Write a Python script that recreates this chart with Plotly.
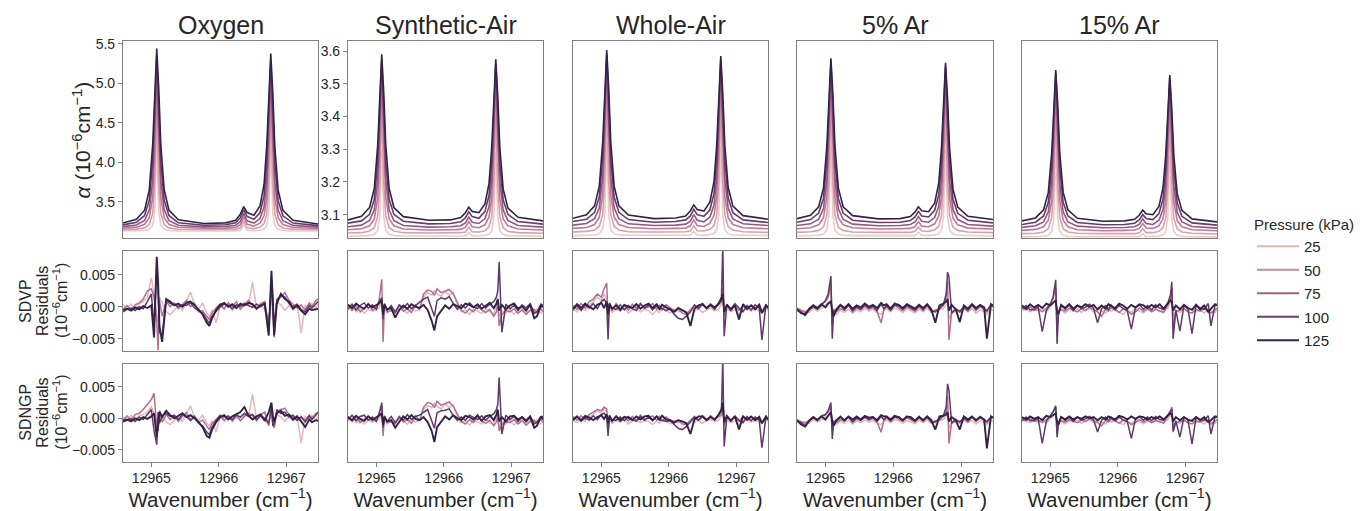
import math
import plotly.graph_objects as go

# ---------------- data ----------------
PANELS = ["Oxygen", "Synthetic-Air", "Whole-Air", "5% Ar", "15% Ar"]
TOP_PRESSURES = [15, 37, 59, 81, 103, 125]      # kPa, one absorption spectrum each
RES_PRESSURES = [25, 65, 105, 125]              # kPa, residual traces drawn per panel
LEGEND_PRESSURES = [25, 50, 75, 100, 125]

WN_TOP = [12964.58, 12964.78, 12964.90, 12964.97, 12965.02, 12965.05, 12965.08, 12965.11,
          12965.14, 12965.19, 12965.26, 12965.40, 12965.78, 12966.10, 12966.25, 12966.32,
          12966.37, 12966.42, 12966.52, 12966.61, 12966.67, 12966.71, 12966.74, 12966.77,
          12966.80, 12966.83, 12966.88, 12966.95, 12967.10, 12967.47]

# absorption coefficient (10^-6 cm^-1), one list per pressure (low -> high)
ALPHA_OXYGEN = [
    [3.131, 3.133, 3.139, 3.154, 3.204, 3.378, 4.25, 3.378, 3.204, 3.154, 3.139, 3.133, 3.131, 3.131, 3.132, 3.139, 3.212, 3.14, 3.135, 3.141, 3.157, 3.201, 3.367, 4.20, 3.367, 3.201, 3.153, 3.138, 3.133, 3.131],
    [3.149, 3.155, 3.171, 3.213, 3.353, 3.732, 4.65, 3.732, 3.353, 3.213, 3.171, 3.153, 3.148, 3.149, 3.152, 3.17, 3.26, 3.172, 3.161, 3.178, 3.224, 3.346, 3.712, 4.60, 3.712, 3.346, 3.21, 3.17, 3.153, 3.147],
    [3.167, 3.18, 3.216, 3.30, 3.556, 4.112, 4.95, 4.112, 3.556, 3.30, 3.216, 3.178, 3.166, 3.168, 3.177, 3.21, 3.312, 3.216, 3.194, 3.23, 3.324, 3.545, 4.086, 4.90, 4.086, 3.545, 3.296, 3.214, 3.176, 3.164],
    [3.187, 3.208, 3.265, 3.40, 3.77, 4.434, 5.18, 4.434, 3.77, 3.40, 3.265, 3.204, 3.184, 3.188, 3.203, 3.252, 3.355, 3.261, 3.231, 3.288, 3.435, 3.753, 4.396, 5.12, 4.396, 3.753, 3.393, 3.263, 3.202, 3.181],
    [3.209, 3.242, 3.328, 3.521, 4.007, 4.717, 5.34, 4.717, 4.007, 3.521, 3.328, 3.235, 3.204, 3.21, 3.235, 3.30, 3.401, 3.315, 3.279, 3.362, 3.572, 3.984, 4.674, 5.28, 4.674, 3.984, 3.512, 3.324, 3.232, 3.199],
    [3.233, 3.279, 3.395, 3.652, 4.226, 4.926, 5.44, 4.927, 4.227, 3.653, 3.397, 3.273, 3.227, 3.234, 3.267, 3.345, 3.439, 3.365, 3.33, 3.448, 3.717, 4.204, 4.882, 5.375, 4.88, 4.20, 3.644, 3.393, 3.266, 3.219],
]
ALPHA_SYNTH_AIR = [
    [3.034, 3.035, 3.036, 3.04, 3.052, 3.093, 3.30, 3.093, 3.052, 3.04, 3.036, 3.035, 3.034, 3.034, 3.035, 3.035, 3.046, 3.036, 3.035, 3.037, 3.04, 3.051, 3.091, 3.29, 3.091, 3.051, 3.039, 3.036, 3.035, 3.034],
    [3.044, 3.045, 3.05, 3.06, 3.095, 3.19, 3.42, 3.19, 3.095, 3.06, 3.05, 3.045, 3.044, 3.044, 3.045, 3.047, 3.062, 3.048, 3.047, 3.051, 3.063, 3.094, 3.186, 3.41, 3.186, 3.094, 3.06, 3.049, 3.045, 3.043],
    [3.054, 3.057, 3.066, 3.087, 3.151, 3.29, 3.50, 3.29, 3.151, 3.087, 3.066, 3.056, 3.053, 3.054, 3.055, 3.061, 3.079, 3.063, 3.06, 3.069, 3.093, 3.149, 3.285, 3.49, 3.285, 3.149, 3.086, 3.066, 3.056, 3.053],
    [3.063, 3.068, 3.082, 3.115, 3.206, 3.368, 3.55, 3.368, 3.206, 3.115, 3.082, 3.067, 3.062, 3.063, 3.066, 3.075, 3.093, 3.077, 3.073, 3.088, 3.124, 3.203, 3.361, 3.54, 3.361, 3.203, 3.114, 3.082, 3.067, 3.062],
    [3.074, 3.081, 3.101, 3.147, 3.261, 3.428, 3.575, 3.428, 3.261, 3.147, 3.101, 3.08, 3.072, 3.073, 3.078, 3.09, 3.109, 3.094, 3.089, 3.11, 3.159, 3.256, 3.419, 3.562, 3.419, 3.256, 3.145, 3.101, 3.079, 3.071],
    [3.084, 3.095, 3.122, 3.18, 3.312, 3.472, 3.59, 3.472, 3.312, 3.18, 3.122, 3.094, 3.083, 3.084, 3.091, 3.106, 3.123, 3.11, 3.106, 3.133, 3.195, 3.306, 3.461, 3.575, 3.461, 3.305, 3.178, 3.12, 3.092, 3.081],
]
ALPHA_WHOLE_AIR = [
    [3.036, 3.037, 3.038, 3.042, 3.055, 3.099, 3.32, 3.099, 3.055, 3.042, 3.038, 3.037, 3.036, 3.036, 3.037, 3.038, 3.048, 3.038, 3.037, 3.039, 3.043, 3.054, 3.097, 3.31, 3.097, 3.054, 3.042, 3.038, 3.037, 3.036],
    [3.047, 3.049, 3.053, 3.064, 3.10, 3.20, 3.44, 3.20, 3.10, 3.064, 3.053, 3.048, 3.047, 3.047, 3.048, 3.051, 3.066, 3.051, 3.05, 3.055, 3.067, 3.099, 3.196, 3.43, 3.196, 3.099, 3.063, 3.053, 3.048, 3.046],
    [3.058, 3.061, 3.07, 3.092, 3.159, 3.303, 3.52, 3.303, 3.159, 3.092, 3.07, 3.061, 3.057, 3.058, 3.059, 3.066, 3.084, 3.067, 3.064, 3.074, 3.098, 3.155, 3.295, 3.505, 3.295, 3.155, 3.091, 3.07, 3.06, 3.057],
    [3.068, 3.073, 3.088, 3.121, 3.214, 3.379, 3.565, 3.379, 3.214, 3.121, 3.088, 3.072, 3.067, 3.068, 3.071, 3.08, 3.10, 3.083, 3.078, 3.093, 3.13, 3.209, 3.37, 3.55, 3.37, 3.209, 3.119, 3.087, 3.072, 3.067],
    [3.079, 3.086, 3.107, 3.154, 3.27, 3.44, 3.59, 3.44, 3.27, 3.154, 3.107, 3.085, 3.077, 3.079, 3.084, 3.096, 3.116, 3.10, 3.095, 3.115, 3.165, 3.264, 3.428, 3.573, 3.428, 3.264, 3.151, 3.106, 3.084, 3.076],
    [3.089, 3.10, 3.127, 3.187, 3.321, 3.483, 3.603, 3.483, 3.321, 3.187, 3.127, 3.099, 3.088, 3.09, 3.096, 3.112, 3.13, 3.116, 3.111, 3.139, 3.202, 3.313, 3.47, 3.585, 3.47, 3.312, 3.183, 3.126, 3.097, 3.086],
]
ALPHA_AR5 = [
    [3.035, 3.036, 3.037, 3.041, 3.053, 3.096, 3.31, 3.096, 3.053, 3.041, 3.037, 3.036, 3.035, 3.035, 3.036, 3.036, 3.046, 3.037, 3.036, 3.038, 3.042, 3.053, 3.094, 3.30, 3.094, 3.053, 3.041, 3.037, 3.036, 3.035],
    [3.046, 3.048, 3.052, 3.062, 3.098, 3.195, 3.43, 3.195, 3.098, 3.062, 3.052, 3.047, 3.046, 3.046, 3.046, 3.049, 3.062, 3.05, 3.049, 3.054, 3.065, 3.097, 3.191, 3.42, 3.191, 3.097, 3.062, 3.052, 3.047, 3.045],
    [3.057, 3.06, 3.069, 3.09, 3.155, 3.294, 3.505, 3.294, 3.155, 3.09, 3.069, 3.06, 3.056, 3.057, 3.058, 3.063, 3.079, 3.065, 3.063, 3.072, 3.096, 3.151, 3.286, 3.49, 3.286, 3.151, 3.089, 3.069, 3.059, 3.056],
    [3.067, 3.072, 3.086, 3.118, 3.207, 3.366, 3.545, 3.366, 3.207, 3.118, 3.086, 3.071, 3.066, 3.067, 3.07, 3.078, 3.094, 3.08, 3.077, 3.091, 3.126, 3.202, 3.357, 3.53, 3.357, 3.202, 3.116, 3.085, 3.07, 3.065],
    [3.077, 3.085, 3.105, 3.149, 3.261, 3.424, 3.567, 3.424, 3.261, 3.149, 3.105, 3.083, 3.076, 3.077, 3.082, 3.093, 3.11, 3.096, 3.093, 3.113, 3.161, 3.255, 3.414, 3.553, 3.414, 3.255, 3.147, 3.104, 3.083, 3.075],
    [3.088, 3.098, 3.124, 3.181, 3.309, 3.464, 3.578, 3.464, 3.309, 3.181, 3.124, 3.097, 3.087, 3.088, 3.094, 3.108, 3.124, 3.112, 3.109, 3.135, 3.196, 3.303, 3.453, 3.564, 3.453, 3.302, 3.178, 3.123, 3.095, 3.085],
]
ALPHA_AR15 = [
    [3.032, 3.033, 3.034, 3.037, 3.049, 3.089, 3.29, 3.089, 3.049, 3.037, 3.034, 3.033, 3.032, 3.032, 3.033, 3.033, 3.042, 3.033, 3.033, 3.035, 3.038, 3.048, 3.087, 3.28, 3.087, 3.048, 3.037, 3.034, 3.033, 3.032],
    [3.042, 3.043, 3.047, 3.057, 3.091, 3.181, 3.40, 3.181, 3.091, 3.057, 3.047, 3.043, 3.042, 3.042, 3.042, 3.045, 3.057, 3.045, 3.045, 3.049, 3.06, 3.089, 3.177, 3.39, 3.177, 3.089, 3.057, 3.047, 3.043, 3.041],
    [3.052, 3.055, 3.063, 3.083, 3.143, 3.273, 3.47, 3.273, 3.143, 3.083, 3.063, 3.054, 3.051, 3.052, 3.053, 3.058, 3.073, 3.059, 3.058, 3.066, 3.088, 3.141, 3.268, 3.46, 3.268, 3.141, 3.082, 3.063, 3.054, 3.051],
    [3.061, 3.066, 3.078, 3.109, 3.192, 3.342, 3.51, 3.342, 3.192, 3.109, 3.078, 3.065, 3.06, 3.061, 3.063, 3.071, 3.087, 3.073, 3.07, 3.083, 3.116, 3.188, 3.334, 3.497, 3.334, 3.188, 3.107, 3.078, 3.064, 3.059],
    [3.07, 3.077, 3.096, 3.138, 3.243, 3.397, 3.532, 3.397, 3.243, 3.138, 3.096, 3.076, 3.069, 3.07, 3.074, 3.085, 3.10, 3.088, 3.085, 3.103, 3.148, 3.238, 3.387, 3.518, 3.387, 3.238, 3.136, 3.095, 3.075, 3.068],
    [3.081, 3.09, 3.115, 3.168, 3.288, 3.435, 3.542, 3.435, 3.288, 3.168, 3.115, 3.089, 3.08, 3.081, 3.086, 3.099, 3.114, 3.103, 3.10, 3.125, 3.182, 3.282, 3.423, 3.527, 3.423, 3.282, 3.165, 3.113, 3.087, 3.078],
]

WN_RES = [12964.58, 12964.64, 12964.70, 12964.76, 12964.82, 12964.88, 12964.94, 12965.00,
          12965.04, 12965.08, 12965.10, 12965.12, 12965.16, 12965.22, 12965.28, 12965.34,
          12965.40, 12965.46, 12965.52, 12965.58, 12965.64, 12965.70, 12965.76, 12965.82,
          12965.86, 12965.90, 12965.96, 12966.02, 12966.08, 12966.14, 12966.20, 12966.26,
          12966.32, 12966.38, 12966.44, 12966.50, 12966.56, 12966.62, 12966.68, 12966.74,
          12966.78, 12966.80, 12966.82, 12966.86, 12966.92, 12966.98, 12967.04, 12967.10,
          12967.16, 12967.22, 12967.28, 12967.34, 12967.38, 12967.44, 12967.47]

RES_UNIT = 1e-4   # residual lists below are written in units of 1e-4 (x 10^-6 cm^-1)

SDVP_OXYGEN = [
    [3,-2,4,-3,5,8,15,45,20,-10,-25,15,5,-8,-12,-5,2,-6,8,23,3,-4,6,-10,-15,-5,-25,2,-4,5,-6,3,-2,7,2,39,-3,4,-5,-20,15,-5,-25,8,3,-6,2,-5,4,-41,2,-3,5,-2,4],
    [-4,2,-5,3,6,12,25,28,15,-20,-68,10,-15,8,0,6,-3,4,10,0,5,-8,-6,-15,-20,-10,-2,4,-3,6,0,8,-4,3,10,2,-3,5,8,-30,35,-10,-48,12,15,22,10,4,-2,3,-5,6,0,10,12],
    [-8,-4,-2,-6,0,-3,8,20,-30,60,25,-40,-45,10,5,4,0,3,2,6,-2,-6,-10,-20,-26,-15,-8,0,4,2,-3,3,1,5,2,-1,4,0,6,-38,45,15,-35,10,18,15,5,0,4,-4,-8,2,-2,5,8],
    [-5,-3,-6,-1,-4,1,-2,2,-48,78,40,-30,-55,12,8,2,5,0,6,8,3,-5,-12,-25,-30,-18,-5,3,6,0,4,-2,5,2,6,4,-3,2,5,-45,56,10,-45,5,20,12,8,-3,2,-6,-12,-3,-5,-4,-3],
]
SDNGP_OXYGEN = [
    [2,-3,5,-2,4,6,10,18,8,-6,-15,12,4,-6,-10,-4,3,-5,8,20,2,-3,5,-8,-12,-4,-22,3,-5,4,-6,2,-3,6,3,38,-2,3,-4,-10,12,-4,-15,6,2,-5,3,-4,5,-40,3,-2,4,-3,3],
    [-3,4,-4,6,8,14,22,30,40,-15,-20,12,-6,6,-2,4,-5,3,9,-2,4,-6,-3,-12,-18,-8,-2,5,-3,4,-2,6,-4,3,8,4,-4,6,10,-12,20,-8,-15,10,14,16,6,2,-4,3,-3,5,0,8,10],
    [-6,-3,0,-5,2,-2,6,14,-20,-42,10,-8,4,8,3,5,-2,6,3,-4,2,-8,-12,-22,-26,-14,-4,4,2,3,-3,5,2,8,3,6,-2,4,0,-8,18,-12,-10,14,8,10,2,5,-3,2,-6,4,-2,6,9],
    [-4,-2,-5,0,-3,2,-1,3,8,-30,-12,10,2,12,5,0,4,8,2,5,0,-6,-14,-28,-31,-18,-6,2,5,-2,3,6,10,18,4,-2,3,6,-4,10,25,5,-6,8,12,4,6,-2,3,-5,-14,-2,-6,-3,-4],
]
SDVP_SYNTH_AIR = [
    [-6,2,-8,-3,-10,-4,-7,-5,-2,8,-20,-3,-10,-5,-8,-3,-6,-10,-2,-7,-4,15,22,18,25,20,16,24,18,22,4,-8,-5,-12,-4,-7,-10,-3,-8,-12,5,-8,-15,-6,-10,-4,-12,-6,-3,-9,-5,-8,-4,-10,-6],
    [4,-6,2,-8,-3,5,-5,-2,10,43,-55,4,-8,-6,-10,2,-7,-3,-9,3,-5,20,26,24,18,28,22,25,27,20,8,-6,-10,-3,-8,2,-5,-9,-4,-15,-8,10,-30,-12,-6,-8,-3,-10,-5,-12,-6,-4,-9,-3,-7],
    [-3,4,-5,2,6,-2,3,-4,8,14,-20,5,-6,2,-8,3,-2,5,-3,2,6,12,15,-5,-15,10,14,12,16,5,-4,3,-2,6,0,-3,5,-2,4,8,15,25,70,-40,4,-3,2,-6,3,-2,5,-10,-8,4,2],
    [3,-2,5,0,-3,4,-1,2,5,10,-12,3,-4,-2,-17,-5,2,-3,4,0,-2,3,-5,-22,-37,-15,-6,2,-3,4,1,-2,5,3,-1,4,-3,2,6,-2,5,12,-6,3,-4,2,5,-3,1,-6,3,-18,-15,2,-1],
]
SDNGP_SYNTH_AIR = [
    [-5,3,-7,-2,-9,-3,-6,-4,-1,6,-15,-2,-9,-4,-7,-2,-5,-9,-1,-6,-3,14,20,17,24,19,15,23,17,21,3,-7,-4,-11,-3,-6,-9,-2,-7,-10,4,-7,-13,-5,-9,-3,-11,-5,-2,-8,-4,-7,-3,-9,-5],
    [3,-5,3,-7,-2,4,-4,-1,8,20,-28,3,-7,-5,-9,3,-6,-2,-8,4,-4,18,25,23,17,27,21,24,26,19,7,-5,-9,-2,-7,3,-4,-8,-3,-12,-6,8,-20,-10,-5,-7,-2,-9,-4,-11,-5,-3,-8,-2,-6],
    [-2,5,-4,3,5,-3,2,-5,6,25,-15,4,-5,3,-7,2,-3,6,-2,3,5,10,14,-4,-16,9,12,13,15,4,-3,2,-3,5,1,-2,4,-3,3,7,14,22,65,-25,5,-2,3,-5,2,-3,4,-9,-6,3,3],
    [2,-3,4,-1,-4,3,-2,1,4,8,-10,2,-5,-3,-15,-6,3,-2,5,-1,-3,2,-6,-20,-38,-14,-5,3,-2,5,0,-3,4,2,-2,5,-4,3,5,-3,6,14,-5,2,-5,3,4,-2,2,-5,2,-15,-12,3,-2],
]
SDVP_WHOLE_AIR = [
    [-4,-8,-2,-6,3,8,15,10,20,12,-8,-3,-9,-4,-7,-2,-10,-5,-3,-8,-4,-6,-12,-5,-9,-3,-6,-10,-4,-8,-6,-11,-4,-7,-3,-9,-5,-2,-6,-4,5,18,-10,-3,-8,-4,-12,-5,-2,-7,-3,-6,-9,-4,-5],
    [2,-4,5,-2,8,12,20,15,28,37,-20,3,-6,5,-3,2,-5,4,-2,6,-3,0,5,-4,2,-5,3,-2,-6,-4,-10,-12,-5,2,-4,3,-2,5,-3,3,8,30,-15,2,-4,3,-6,2,-5,3,-2,4,-8,3,-2],
    [-5,2,-6,3,-2,5,-3,8,12,5,-51,6,-2,-4,3,-5,2,-3,-6,4,-2,3,-5,2,-4,-2,-6,-3,-12,-18,-20,-15,-8,3,-2,5,-3,2,-4,6,15,95,-46,4,-3,5,-2,-8,2,-5,3,-2,-52,4,-3],
    [-3,4,-2,5,0,-4,3,6,-2,8,-12,4,-3,2,-5,3,0,-2,4,-3,2,5,-2,4,-3,3,-1,-4,-8,-2,-6,-9,-30,-3,2,4,-2,3,-1,5,12,20,-8,3,-5,2,-20,4,-3,2,-4,3,-10,2,-1],
]
SDNGP_WHOLE_AIR = [
    [-3,-7,-2,-5,2,6,12,8,15,10,-6,-3,-8,-4,-6,-2,-9,-4,-3,-7,-4,-5,-10,-4,-8,-3,-5,-9,-4,-7,-5,-10,-3,-6,-3,-8,-4,-2,-5,-3,4,14,-8,-3,-7,-4,-10,-4,-2,-6,-3,-5,-8,-3,-4],
    [3,-3,4,-2,6,10,14,12,18,15,-22,2,-5,4,-2,3,-4,3,-3,5,-2,1,4,-3,3,-4,2,-3,-5,-3,-9,-10,-4,3,-3,2,-3,4,-2,2,6,20,-12,3,-3,2,-5,3,-4,2,-3,3,-7,2,-3],
    [-4,3,-5,2,-3,4,-2,6,8,3,-28,5,-3,-3,2,-4,3,-2,-5,3,-3,2,-4,3,-3,-3,-5,-4,-10,-16,-18,-13,-6,2,-3,4,-2,3,-3,5,12,95,-45,3,-4,4,-3,-7,3,-4,2,-3,-47,3,-2],
    [-2,3,-3,4,1,-3,2,5,-1,6,-8,3,-4,3,-4,2,1,-3,3,-2,3,4,-3,3,-2,4,-2,-3,-7,-3,-5,-8,-25,-2,3,3,-3,2,-2,6,14,25,-6,4,-4,3,-18,3,-2,3,-3,2,-8,3,-2],
]
SDVP_AR5 = [
    [-5,-8,-6,-9,-2,-7,-3,2,6,10,-10,-8,-12,-6,-9,-4,-10,-5,-8,-3,-7,-4,-9,-12,-6,-3,-8,-2,-5,-9,-3,-7,-10,-4,-8,-2,-9,-6,-5,-3,4,10,-20,-10,-7,-9,-4,-8,-3,-10,-5,-8,-12,-4,-6],
    [-2,-6,-9,-4,3,-3,5,8,15,35,-30,-4,-8,-3,-6,2,-8,-2,-5,1,-4,-1,-7,-25,-5,0,-6,2,-2,-6,0,-4,-7,0,-6,2,-8,-5,-4,2,15,40,-52,-8,-5,-6,-2,-7,2,-6,0,-5,-8,2,-1],
    [-6,-8,-14,-5,0,-4,2,10,20,48,-50,-8,-6,2,-5,3,-6,0,-4,3,-2,1,-6,4,-3,2,-5,3,1,-4,2,-2,-5,2,-4,3,-6,-8,-2,4,20,54,47,-10,-3,-8,0,-5,3,-4,2,-3,-6,3,1],
    [-4,-10,-12,-3,2,-2,4,-1,5,8,-6,-15,-4,3,-2,4,-3,2,-1,5,0,3,-2,6,2,4,-3,5,3,-2,4,1,-3,3,-2,4,-4,-25,2,5,8,12,-6,3,-4,-24,2,-3,4,-2,3,-1,-50,4,2],
]
SDNGP_AR5 = [
    [-4,-7,-5,-8,-2,-6,-2,2,5,8,-8,-7,-10,-5,-8,-3,-9,-4,-7,-3,-6,-3,-8,-10,-5,-3,-7,-2,-4,-8,-3,-6,-9,-3,-7,-2,-8,-5,-4,-2,3,8,-16,-8,-6,-8,-3,-7,-3,-9,-4,-7,-10,-3,-5],
    [-2,-5,-8,-3,2,-2,4,6,10,18,-20,-4,-7,-2,-5,2,-7,-1,-4,2,-3,0,-6,-22,-4,1,-5,2,-1,-5,1,-3,-6,1,-5,2,-7,-4,-3,3,12,35,-40,-6,-4,-5,-1,-6,2,-5,1,-4,-7,2,0],
    [-5,-7,-12,-4,1,-3,3,6,12,25,-33,-6,-5,3,-4,2,-5,1,-3,2,-2,2,-5,3,-2,3,-4,2,2,-3,3,-1,-4,3,-3,2,-5,-6,-1,5,18,55,45,-8,-2,-6,1,-4,2,-3,3,-2,-5,2,2],
    [-3,-10,-13,-4,2,-3,3,-2,4,10,-5,-12,-3,2,-3,3,-2,3,-2,4,1,2,-3,5,3,3,-2,4,2,-3,3,2,-4,2,-3,3,-3,-18,3,4,6,10,-5,2,-3,-18,3,-2,3,-3,2,-2,-48,3,1],
]
SDVP_AR15 = [
    [-6,-3,-8,-4,-7,-2,-9,0,5,12,-12,-8,-5,-10,-4,-7,-3,-9,-5,-2,-8,-4,-6,-10,-3,-7,-4,-8,-12,-5,-9,-3,-6,-10,-4,-7,-2,-8,-5,-3,6,15,-15,-6,-9,-4,-7,-3,-8,-5,-10,-3,-6,-9,-4],
    [-2,-5,0,-6,-3,-8,-2,5,12,30,-40,-6,-4,-7,-2,-5,-8,-3,-6,-1,-4,-8,-15,-3,-7,-2,-5,-9,-3,-6,-12,-8,-2,-7,-3,-8,-4,-6,-9,2,14,30,-35,-8,-6,-3,-8,-10,-4,-7,-3,-6,-10,-4,-2],
    [-3,2,-5,-4,0,-39,-6,4,15,42,-58,-10,2,-4,3,-6,2,-3,-1,4,-2,-25,-3,2,-4,3,-5,2,-3,-6,-35,-2,3,-4,2,-5,3,-2,-4,6,18,39,-50,-5,-38,2,-4,-42,3,-2,-4,5,-30,2,4],
    [2,-3,4,-1,3,-2,5,2,6,10,-8,-12,3,-2,4,-3,2,-1,4,0,3,-4,2,-3,4,1,-2,5,2,-3,3,-1,4,2,-2,3,-1,4,-3,5,10,8,-6,2,-4,3,-2,-5,3,-4,2,-8,-3,4,2],
]
SDNGP_AR15 = [
    [-5,-3,-7,-4,-6,-2,-8,0,4,8,-10,-7,-5,-9,-4,-6,-3,-8,-5,-2,-7,-4,-6,-9,-3,-6,-4,-7,-10,-5,-8,-3,-6,-9,-4,-6,-2,-7,-5,-3,5,10,-12,-6,-8,-4,-6,-3,-7,-5,-9,-3,-6,-8,-4],
    [-2,-4,0,-5,-3,-7,-2,4,10,18,-25,-5,-4,-6,-2,-4,-7,-3,-5,-1,-4,-7,-12,-3,-6,-2,-4,-8,-3,-5,-10,-7,-2,-6,-3,-7,-4,-5,-8,2,10,18,-22,-7,-5,-3,-7,-9,-4,-6,-3,-5,-9,-4,-2],
    [-3,2,-4,-3,0,-40,-5,3,10,20,-30,-8,2,-3,2,-5,2,-3,-1,3,-2,-22,-3,2,-3,2,-4,2,-3,-5,-32,-2,3,-3,2,-4,3,-2,-3,5,12,15,-20,-4,-30,2,-3,-41,2,-2,-3,4,-25,2,3],
    [2,-2,3,-1,2,-3,4,2,5,8,-6,-10,2,-2,3,-2,2,-1,3,0,2,-3,2,-2,3,1,-2,4,2,-2,3,-1,3,2,-2,2,-1,3,-2,4,8,6,-5,2,-3,2,-2,-4,2,-3,2,-6,-3,3,2],
]

ALPHA = [ALPHA_OXYGEN, ALPHA_SYNTH_AIR, ALPHA_WHOLE_AIR, ALPHA_AR5, ALPHA_AR15]
SDVP = [SDVP_OXYGEN, SDVP_SYNTH_AIR, SDVP_WHOLE_AIR, SDVP_AR5, SDVP_AR15]
SDNGP = [SDNGP_OXYGEN, SDNGP_SYNTH_AIR, SDNGP_WHOLE_AIR, SDNGP_AR5, SDNGP_AR15]

for grp in ALPHA:
    for s in grp:
        assert len(s) == len(WN_TOP), len(s)
for grp in SDVP + SDNGP:
    for s in grp:
        assert len(s) == len(WN_RES), len(s)


# ---------------- style ----------------
def cubehelix(p, pmin=12.0, pmax=128.0):
    """seaborn default sequential (cubehelix) palette for a numeric hue."""
    t = (p - pmin) / (pmax - pmin)
    x = 0.85 + (0.15 - 0.85) * t
    a = 0.8 * x * (1 - x) / 2
    phi = 2 * math.pi * (0.4 * x)
    c, s = math.cos(phi), math.sin(phi)
    r = x + a * (-0.14861 * c + 1.78277 * s)
    g = x + a * (-0.29227 * c - 0.90649 * s)
    b = x + a * (1.97294 * c)
    clip = lambda v: int(round(255 * min(1.0, max(0.0, v))))
    return f"rgb({clip(r)},{clip(g)},{clip(b)})"


W, H = 1368, 511
COL_PX = [(123, 318), (348, 543), (573, 768), (797, 993), (1022, 1217)]
ROW_PX = [(36, 236), (249, 350), (363, 462)]
FONT = "Liberation Sans, Arial, Helvetica, sans-serif"
TXT = "#262626"
FRAME = "#808080"

XRANGE = [12964.58, 12967.47]
Y_OXY = [3.04, 5.54]
Y_AIR = [3.028, 3.632]
Y_RES = [-0.0069, 0.0087]


def ax_ids(r, c):
    n = r * 5 + c + 1
    return ("x" if n == 1 else f"x{n}"), ("y" if n == 1 else f"y{n}"), n


fig = go.Figure()

for c in range(5):
    # absorption spectra
    xa, ya, _ = ax_ids(0, c)
    for k, p in enumerate(TOP_PRESSURES):
        fig.add_trace(go.Scatter(x=WN_TOP, y=ALPHA[c][k], mode="lines", xaxis=xa, yaxis=ya,
                                 line=dict(color=cubehelix(p), width=1.6), showlegend=False,
                                 hoverinfo="skip"))
    # residuals
    for r, res in ((1, SDVP), (2, SDNGP)):
        xa, ya, _ = ax_ids(r, c)
        for k, p in enumerate(RES_PRESSURES):
            fig.add_trace(go.Scatter(x=WN_RES, y=[v * RES_UNIT for v in res[c][k]], mode="lines",
                                     xaxis=xa, yaxis=ya,
                                     line=dict(color=cubehelix(p), width=(1.9 if p == 125 else 1.5)),
                                     showlegend=False, hoverinfo="skip"))

# legend entries
for p in LEGEND_PRESSURES:
    fig.add_trace(go.Scatter(x=[None], y=[None], mode="lines", name=str(p), legendgroup=str(p),
                             line=dict(color=cubehelix(p), width=2), xaxis="x", yaxis="y"))

layout = {}
for r in range(3):
    for c in range(5):
        _, _, n = ax_ids(r, c)
        xk = "xaxis" if n == 1 else f"xaxis{n}"
        yk = "yaxis" if n == 1 else f"yaxis{n}"
        x0, x1 = COL_PX[c]
        y0, y1 = ROW_PX[r]
        xa = dict(domain=[x0 / W, x1 / W], range=XRANGE, anchor=("y" if n == 1 else f"y{n}"),
                  showline=True, mirror=True, linecolor=FRAME, linewidth=1.2, showgrid=False,
                  zeroline=False, ticks="", showticklabels=False,
                  tickfont=dict(family=FONT, size=14, color=TXT))
        ya = dict(domain=[1 - y1 / H, 1 - y0 / H], anchor=("x" if n == 1 else f"x{n}"),
                  showline=True, mirror=True, linecolor=FRAME, linewidth=1.2, showgrid=False,
                  zeroline=False, ticks="", showticklabels=False,
                  tickfont=dict(family=FONT, size=14, color=TXT))
        if r == 2:
            xa.update(ticks="outside", ticklen=4, tickcolor=FRAME, showticklabels=True,
                      tickvals=[12965, 12966, 12967], ticktext=["12965", "12966", "12967"],
                      title=dict(text="Wavenumber (cm<sup>−1</sup>)", standoff=10,
                                 font=dict(family=FONT, size=20.5, color=TXT)))
        if r == 0:
            ya["range"] = Y_OXY if c == 0 else Y_AIR
            if c == 0:
                ya.update(ticks="outside", ticklen=4, tickcolor=FRAME, showticklabels=True,
                          tickvals=[3.5, 4.0, 4.5, 5.0, 5.5],
                          ticktext=["3.5", "4.0", "4.5", "5.0", "5.5"])
            elif c == 1:
                ya.update(ticks="outside", ticklen=4, tickcolor=FRAME, showticklabels=True,
                          tickvals=[3.1, 3.2, 3.3, 3.4, 3.5, 3.6],
                          ticktext=["3.1", "3.2", "3.3", "3.4", "3.5", "3.6"])
        else:
            ya["range"] = Y_RES
            if c == 0:
                ya.update(ticks="outside", ticklen=4, tickcolor=FRAME, showticklabels=True,
                          tickvals=[-0.005, 0.0, 0.005], ticktext=["−0.005", "0.000", "0.005"])
        layout[xk] = xa
        layout[yk] = ya

annotations = []
for c, name in enumerate(PANELS):
    x0, x1 = COL_PX[c]
    annotations.append(dict(text=name, x=(x0 + x1) / 2 / W, y=1 - 20 / H, xref="paper", yref="paper",
                            showarrow=False, xanchor="center", yanchor="middle",
                            font=dict(family=FONT, size=25, color=TXT)))
annotations.append(dict(text="<i>α</i> (10<sup>−6</sup>cm<sup>−1</sup>)", x=82 / W, y=1 - 137 / H,
                        xref="paper", yref="paper", showarrow=False, textangle=-90,
                        xanchor="center", yanchor="middle",
                        font=dict(family=FONT, size=21, color=TXT)))
for r, label in ((1, "SDVP"), (2, "SDNGP")):
    yc = (ROW_PX[r][0] + ROW_PX[r][1]) / 2
    for xc, line in ((26, label), (43, "Residuals"), (60, "(10<sup>−6</sup>cm<sup>−1</sup>)")):
        annotations.append(dict(text=line, x=xc / W, y=1 - yc / H, xref="paper", yref="paper",
                                showarrow=False, textangle=-90, xanchor="center", yanchor="middle",
                                font=dict(family=FONT, size=16, color=TXT)))

fig.update_layout(
    width=W, height=H, margin=dict(l=0, r=0, t=0, b=0),
    paper_bgcolor="white", plot_bgcolor="white",
    font=dict(family=FONT, color=TXT),
    annotations=annotations,
    showlegend=True,
    legend=dict(x=1252 / W, y=1 - 208 / H, xanchor="left", yanchor="top",
                title=dict(text="Pressure (kPa)", font=dict(family=FONT, size=15, color=TXT)),
                font=dict(family=FONT, size=15, color=TXT), tracegroupgap=1,
                bgcolor="rgba(0,0,0,0)", borderwidth=0, itemwidth=42),
    **layout,
)

fig.write_html("out.html")
